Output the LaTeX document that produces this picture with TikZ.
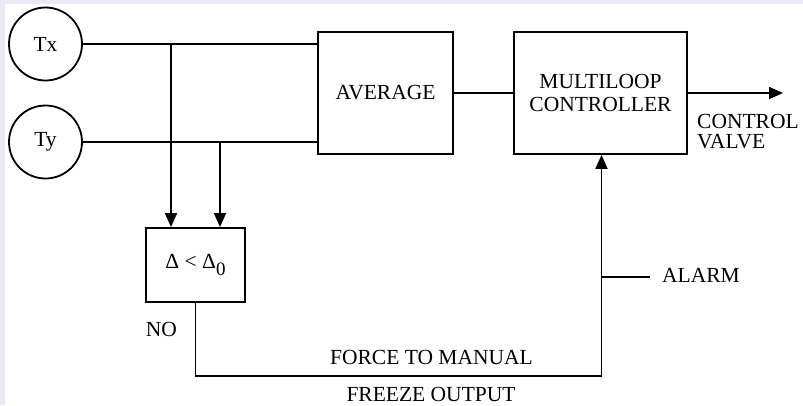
\documentclass[tikz,border=0pt]{standalone}
\usepackage{fontspec}
\setmainfont{Liberation Serif}
\usetikzlibrary{arrows.meta}
\definecolor{framebg}{HTML}{EAEAF6}
\begin{document}
\begin{tikzpicture}[x=1pt,y=-1pt,
  lbl/.style={inner sep=0pt,font=\fontsize{21.5}{23}\selectfont},
  sensor/.style={draw,circle,line width=1.8pt,minimum size=73pt,inner sep=0pt,font=\fontsize{21.5}{23}\selectfont},
  block/.style={draw,rectangle,line width=1.8pt,inner sep=0pt,align=center,font=\fontsize{21.5}{23}\selectfont},
  wire/.style={line width=1.8pt},
  flow/.style={line width=1.8pt,-{Triangle[length=14pt,width=12pt]}}]
  % page with its tinted top and left edge
  \fill[white] (0,0) rectangle (803,405);
  \fill[framebg] (0,0) rectangle (803,4);
  \fill[framebg] (0,0) rectangle (5,405);
  \useasboundingbox (0,0) rectangle (803,405);

  % sensors and blocks
  \node[sensor] (tx) at (45.5,44) {Tx};
  \node[sensor] (ty) at (45.5,142) {Ty};
  \node[block,minimum width=135pt,minimum height=122pt] (avg) at (385.5,93) {AVERAGE};
  \node[block,minimum width=173pt,minimum height=122pt] (mlc) at (600.5,93) {MULTILOOP\\[0pt]CONTROLLER};
  \node[block,minimum width=99pt,minimum height=74pt] (dlt) at (195.5,265)
    {Δ < Δ\raisebox{-0.28em}{\fontsize{19}{19}\selectfont 0}};

  % junctions and free ends
  \coordinate (jx) at (171,44);
  \coordinate (jy) at (220,142);
  \coordinate (cv) at (783,93);
  \coordinate (bl) at (195.5,376);
  \coordinate (br) at (601.5,376);
  \coordinate (al) at (601.5,277);
  \coordinate (ale) at (650,277);

  % signal lines
  \draw[wire] (tx) -- (tx -| avg.west);
  \draw[wire] (ty) -- (ty -| avg.west);
  \draw[flow] (jx) -- (jx |- dlt.north);
  \draw[flow] (jy) -- (jy |- dlt.north);
  \draw[wire] (avg) -- (mlc);
  \draw[flow] (mlc.east |- cv) -- (cv);
  \draw[wire] (dlt.south) -- (bl) -- (br);
  \draw[flow] (br) -- (br |- mlc.south);
  \draw[wire] (al) -- (ale);

  % labels
  \node[lbl,anchor=west,align=left] (valve) at (697,132) {CONTROL\\[-3pt]VALVE};
  \node[lbl,anchor=west] (alarm) at (662,275) {ALARM};
  \node[lbl] (no) at (161.5,329) {NO};
  \node[lbl] (force) at (431.5,357) {FORCE TO MANUAL};
  \node[lbl,anchor=base] (freeze) at (431,401) {FREEZE OUTPUT};
\end{tikzpicture}
\end{document}
